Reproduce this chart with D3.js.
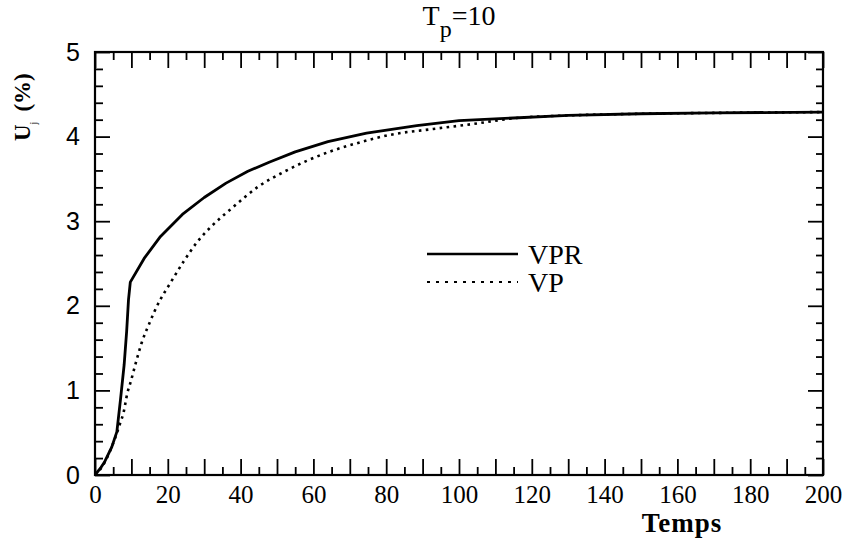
<!DOCTYPE html>
<html>
<head>
<meta charset="utf-8">
<script src="https://cdn.jsdelivr.net/npm/d3@7"></script>
<style>
  body { margin: 0; background: #fff; }
  svg { display: block; }
</style>
</head>
<body>
<svg id="chart"></svg>
<script>
// values
const tVPR = [0, 1.5, 2.7, 4.6, 6, 7, 8, 8.7, 9.2, 9.7, 13.5, 18, 24, 30, 36, 42, 48, 55, 64, 74.6, 88.4, 100, 115, 130, 150, 170, 200];
const vVPR = [0, 0.08, 0.16, 0.33, 0.51, 0.89, 1.3, 1.7, 2.07, 2.28, 2.56, 2.82, 3.08, 3.28, 3.45, 3.59, 3.7, 3.82, 3.94, 4.04, 4.13, 4.19, 4.22, 4.25, 4.27, 4.28, 4.29];

const tVP = [0, 2, 4, 5.8, 6.9, 7.8, 8.9, 9.8, 11.3, 12.8, 14.8, 17.9, 20, 24.3, 28, 32, 37.5, 44.9, 52.2, 58, 65, 71, 81, 92.9, 104, 115.8, 130, 150, 170, 200];
const vVP = [0, 0.1, 0.27, 0.47, 0.61, 0.73, 0.97, 1.1, 1.34, 1.56, 1.78, 2.07, 2.22, 2.52, 2.75, 2.94, 3.15, 3.41, 3.59, 3.71, 3.83, 3.91, 4.02, 4.09, 4.15, 4.22, 4.25, 4.27, 4.28, 4.29];

const xLabels = [0, 20, 40, 60, 80, 100, 120, 140, 160, 180, 200];
const yLabels = [0, 1, 2, 3, 4, 5];
const seriesNames = ["VPR", "VP"];

const width = 846;
const height = 541;
const margin = { top: 52, right: 23, bottom: 66, left: 95 };

const svg = d3.select("#chart")
    .attr("width", width)
    .attr("height", height);

const x = d3.scaleLinear().domain([0, 200]).range([margin.left, width - margin.right]);
const y = d3.scaleLinear().domain([0, 5]).range([height - margin.bottom, margin.top]);

const serif = "'Liberation Serif', 'Times New Roman', serif";
const sans = "'Liberation Sans', Arial, sans-serif";

// tick positions
const xMajor = d3.range(0, 201, 10);
const xMinor = d3.range(5, 200, 10);
const yMajor = yLabels;
const yMinor = d3.range(0, 26).filter(i => i % 5 !== 0).map(i => i / 5);

function styleAxis(g) {
    g.select(".domain").remove();
    g.selectAll(".tick line").attr("stroke", "#000").attr("stroke-width", 1.8);
}

// bottom
svg.append("g")
    .attr("transform", `translate(0,${y(0)})`)
    .call(d3.axisBottom(x).tickValues(xMajor).tickSizeInner(-16).tickSizeOuter(0).tickPadding(10)
        .tickFormat(d => xLabels.includes(d) ? d : ""))
    .call(styleAxis)
    .call(g => g.selectAll("text").attr("font-family", serif).attr("font-size", 25).attr("fill", "#000"));
svg.append("g")
    .attr("transform", `translate(0,${y(0)})`)
    .call(d3.axisBottom(x).tickValues(xMinor).tickSizeInner(-8).tickSizeOuter(0).tickFormat(""))
    .call(styleAxis);

// top
svg.append("g")
    .attr("transform", `translate(0,${y(5)})`)
    .call(d3.axisTop(x).tickValues(xMajor).tickSizeInner(-16).tickSizeOuter(0).tickFormat(""))
    .call(styleAxis);
svg.append("g")
    .attr("transform", `translate(0,${y(5)})`)
    .call(d3.axisTop(x).tickValues(xMinor).tickSizeInner(-8).tickSizeOuter(0).tickFormat(""))
    .call(styleAxis);

// left
svg.append("g")
    .attr("transform", `translate(${x(0)},0)`)
    .call(d3.axisLeft(y).tickValues(yMajor).tickSizeInner(-15).tickSizeOuter(0).tickPadding(15).tickFormat(d3.format("d")))
    .call(styleAxis)
    .call(g => g.selectAll("text").attr("font-family", sans).attr("font-size", 25).attr("fill", "#000"));
svg.append("g")
    .attr("transform", `translate(${x(0)},0)`)
    .call(d3.axisLeft(y).tickValues(yMinor).tickSizeInner(-8).tickSizeOuter(0).tickFormat(""))
    .call(styleAxis);

// right
svg.append("g")
    .attr("transform", `translate(${x(200)},0)`)
    .call(d3.axisRight(y).tickValues(yMajor).tickSizeInner(-15).tickSizeOuter(0).tickFormat(""))
    .call(styleAxis);
svg.append("g")
    .attr("transform", `translate(${x(200)},0)`)
    .call(d3.axisRight(y).tickValues(yMinor).tickSizeInner(-7).tickSizeOuter(0).tickFormat(""))
    .call(styleAxis);

// frame
svg.append("rect")
    .attr("x", x(0))
    .attr("y", y(5))
    .attr("width", x(200) - x(0))
    .attr("height", y(0) - y(5))
    .attr("fill", "none")
    .attr("stroke", "#000")
    .attr("stroke-width", 2.2);

// curves
const smooth = d3.line()
    .x(d => x(d[0]))
    .y(d => y(d[1]))
    .curve(d3.curveMonotoneX);

const straight = d3.line()
    .x(d => x(d[0]))
    .y(d => y(d[1]));

svg.append("path")
    .datum(d3.zip(tVP, vVP))
    .attr("d", smooth)
    .attr("fill", "none")
    .attr("stroke", "#000")
    .attr("stroke-width", 2.6)
    .attr("stroke-dasharray", "2.6,4.4");

svg.append("path")
    .datum(d3.zip(tVPR, vVPR))
    .attr("d", straight)
    .attr("fill", "none")
    .attr("stroke", "#000")
    .attr("stroke-width", 2.8)
    .attr("stroke-linejoin", "round");

// legend
const legend = svg.append("g");
const legendRows = [
    { name: seriesNames[0], dash: null, ly: 254 },
    { name: seriesNames[1], dash: "3,6", ly: 282 }
];
legendRows.forEach(r => {
    legend.append("line")
        .attr("x1", 427).attr("x2", 518)
        .attr("y1", r.ly).attr("y2", r.ly)
        .attr("stroke", "#000")
        .attr("stroke-width", r.dash ? 2.2 : 2.6)
        .attr("stroke-dasharray", r.dash);
    legend.append("text")
        .attr("x", 528)
        .attr("y", r.ly + 10)
        .attr("font-family", serif)
        .attr("font-size", 28)
        .text(r.name);
});

// title
const title = svg.append("text")
    .attr("x", (x(0) + x(200)) / 2)
    .attr("y", 25)
    .attr("text-anchor", "middle")
    .attr("font-family", serif)
    .attr("font-size", 28);
title.append("tspan").text("T");
title.append("tspan").attr("dy", 12).attr("font-size", 24).text("p");
title.append("tspan").attr("dy", -12).text("=10");

// x axis title
svg.append("text")
    .attr("x", 682)
    .attr("y", 532)
    .attr("text-anchor", "middle")
    .attr("font-family", serif)
    .attr("font-weight", "bold")
    .attr("font-size", 27)
    .attr("letter-spacing", 1)
    .text("Temps");

// y axis title
const ytitle = svg.append("text")
    .attr("transform", "translate(30,141) rotate(-90)")
    .attr("font-family", serif)
    .attr("font-weight", "bold")
    .attr("font-size", 23);
ytitle.append("tspan").text("U");
ytitle.append("tspan").attr("dy", 7).attr("font-size", 10).attr("font-weight", "normal").text("j");
ytitle.append("tspan").attr("dy", -7).attr("dx", 10).text("(%)");
</script>
</body>
</html>
